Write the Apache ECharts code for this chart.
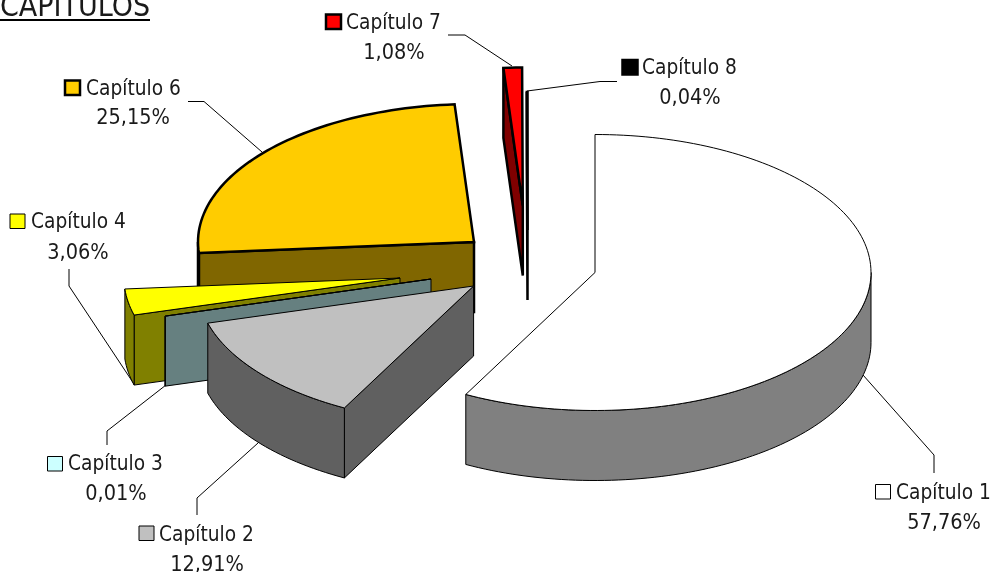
<!DOCTYPE html>
<html>
<head>
<meta charset="utf-8">
<style>html,body{margin:0;padding:0;background:#fff}#c{width:996px;height:572px}</style>
<script src="https://cdn.jsdelivr.net/npm/echarts@6/dist/echarts.min.js"></script>
</head>
<body>
<div id="c"></div>
<script>
// ---- data ----
var chartTitle = 'CAPÍTULOS';
var categories = ['Capítulo 1','Capítulo 2','Capítulo 3','Capítulo 4','Capítulo 6','Capítulo 7','Capítulo 8'];
var shares = [57.76, 12.91, 0.01, 3.06, 25.15, 1.08, 0.04];

// ---- style / layout ----
var topColors  = ['#ffffff','#c0c0c0','#ccffff','#ffff00','#ffcc00','#ff0000','#000000'];
var sideColors = ['#808080','#606060','#668080','#808000','#806600','#800000','#000000'];
var strokeWidths = [1,1,1,1,2.5,2.5,2.5];
var apexX = [595,473.6,431,400,474,522.8,527.5];
var apexY = [272.5,286,279,278,242,205.5,230];
var RX = 276, RY = 138, DEPTH = 70;
var drawOrder = [6,5,4,3,2,1,0];
var keyBoxes = [[875.5,484.5],[139,526],[47.5,456.5],[10,214],[65,80.5],[326,14.5],[622.5,60]];
var textLeft = [896,159,68,31,86,346,642];
var lineOneY = [494,536,465,223,90,24,69];
var valueCenterX = [944,207,116,78,133,394,690];
var valueY = [523,565,494,253,118,53,98];
var leaders = [
  [[863,375],[934,455],[934,473]],
  [[258,443],[197,498],[197,515]],
  [[166,385],[107,431],[107,445]],
  [[134,384],[69,286],[69,269]],
  [[262,152],[204,101.5],[188,101.5]],
  [[512,66],[465,35],[448,35]],
  [[527,91],[600,81.5],[617,81.5]]
];
var FONT = '"DejaVu Sans Condensed", "DejaVu Sans", sans-serif';

var total = shares.reduce(function(a,b){return a+b;},0);
var startAngles = [], acc = 0;
shares.forEach(function(v){ startAngles.push(acc/total*360); acc += v; });

function pt(i, deg, drop){
  var r = deg*Math.PI/180;
  return [apexX[i]+RX*Math.sin(r), apexY[i]-RY*Math.cos(r)+(drop||0)];
}
function arc(i, a0, a1, drop){
  var n = Math.max(2, Math.ceil(Math.abs(a1-a0)/1.5)), out=[];
  for(var k=0;k<=n;k++) out.push(pt(i, a0+(a1-a0)*k/n, drop));
  return out;
}
function poly(pts, fill, lw){
  return {type:'polygon', shape:{points:pts},
    style:{fill:fill, stroke:'#000', lineWidth:lw, lineJoin:'miter'}};
}
function renderSlice(params, api){
  var i = api.value(0);
  var a0 = startAngles[i], a1 = a0 + api.value(1)/total*360;
  var w = strokeWidths[i], side = sideColors[i], kids = [];
  var apexTop = [apexX[i],apexY[i]], apexBot = [apexX[i],apexY[i]+DEPTH];
  // cut faces
  if(Math.sin(a0*Math.PI/180) < -1e-6){
    kids.push(poly([apexTop, pt(i,a0), pt(i,a0,DEPTH), apexBot], side, w));
  }
  if(Math.sin(a1*Math.PI/180) > 1e-6){
    kids.push(poly([apexTop, pt(i,a1), pt(i,a1,DEPTH), apexBot], side, w));
  }
  // outer rim, front half only
  var f0 = Math.max(a0,90), f1 = Math.min(a1,270);
  if(f1 > f0){
    kids.push(poly(arc(i,f0,f1,0).concat(arc(i,f1,f0,DEPTH)), side, w));
  }
  // top
  kids.push(poly([apexTop].concat(arc(i,a0,a1,0)), topColors[i], w));
  return {type:'group', children:kids};
}
function renderLabel(params, api){
  var i = api.value(0), b = keyBoxes[i];
  var line = function(p,q){ return {type:'line', shape:{x1:p[0],y1:p[1],x2:q[0],y2:q[1]}, style:{stroke:'#000',lineWidth:1}}; };
  var L = leaders[i];
  return {type:'group', children:[
    line(L[0],L[1]), line(L[1],L[2]),
    {type:'rect', shape:{x:b[0],y:b[1],width:15,height:14.5}, style:{fill:topColors[i],stroke:'#000',lineWidth:i>=4?2.5:1}},
    {type:'text', style:{x:textLeft[i],y:lineOneY[i],text:categories[i],fill:'#1a1a1a',font:'400 20.7px '+FONT,textAlign:'left',textVerticalAlign:'middle'}},
    {type:'text', style:{x:valueCenterX[i],y:valueY[i],text:api.value(1).toFixed(2).replace('.',',')+'%',fill:'#1a1a1a',font:'400 21.5px '+FONT,textAlign:'center',textVerticalAlign:'middle'}}
  ]};
}
var chart = echarts.init(document.getElementById('c'), null, {renderer:'canvas'});
chart.setOption({
  animation:false,
  backgroundColor:'#fff',
  graphic:[
    {type:'text', left:0, top:-7, style:{text:chartTitle, fill:'#1a1a1a', font:'400 30px '+FONT}},
    {type:'rect', shape:{x:0,y:19,width:150,height:2}, style:{fill:'#000'}}
  ],
  series:[
    {type:'custom', coordinateSystem:'none', silent:true, z:1, renderItem:renderLabel,
     data:categories.map(function(c,i){return {name:c, value:[i,shares[i]]};})},
    {type:'custom', coordinateSystem:'none', silent:true, z:2, renderItem:renderSlice,
     data:drawOrder.map(function(i){return {name:categories[i], value:[i,shares[i]]};})}
  ]
});
</script>
</body>
</html>
